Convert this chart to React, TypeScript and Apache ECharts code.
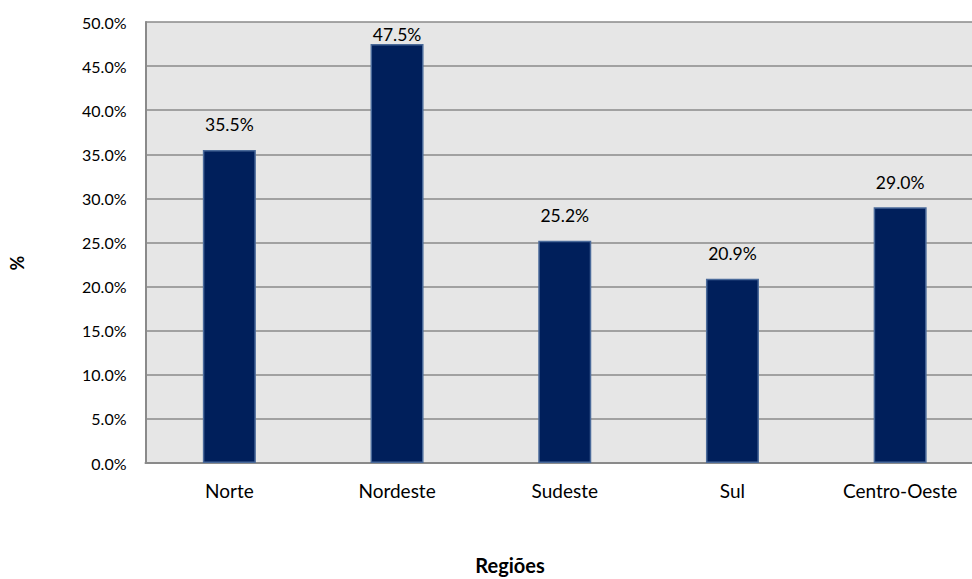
import React, { useEffect, useRef } from "react";
import * as echarts from "echarts";

const categories = ["Norte", "Nordeste", "Sudeste", "Sul", "Centro-Oeste"];
const values = [35.5, 47.5, 25.2, 20.9, 29.0];
const yTicks = { min: 0, max: 50, interval: 5 };

const FONT = "Lato, 'Open Sans', sans-serif";

export default function App() {
  const ref = useRef<HTMLDivElement>(null);

  useEffect(() => {
    if (!ref.current) return;
    const chart = echarts.init(ref.current, null, { renderer: "svg" });

    const data = values.map((v, i) => ({
      value: v,
      // the tallest bar's label sits tucked under the top edge of the plot
      label: i === 1 ? { distance: 1 } : undefined,
    }));

    chart.setOption({
      animation: false,
      backgroundColor: "#ffffff",
      textStyle: { fontFamily: FONT },
      grid: {
        left: 145.5,
        right: 6,
        top: 22,
        bottom: 116,
        show: true,
        backgroundColor: "#e6e6e6",
        borderWidth: 0,
      },
      xAxis: {
        type: "category",
        data: categories,
        axisLine: { show: true, lineStyle: { color: "#8a8a8a", width: 2 } },
        axisTick: { show: false },
        axisLabel: { color: "#000", fontSize: 19, margin: 18, fontFamily: FONT },
      },
      yAxis: {
        type: "value",
        min: yTicks.min,
        max: yTicks.max,
        interval: yTicks.interval,
        axisLine: { show: true, lineStyle: { color: "#8a8a8a", width: 2 } },
        axisTick: { show: false },
        splitLine: { show: true, lineStyle: { color: "#8a8a8a", width: 1.5 } },
        axisLabel: {
          color: "#000",
          fontSize: 16,
          margin: 19,
          fontFamily: FONT,
          formatter: (v: number) => v.toFixed(1) + "%",
        },
      },
      series: [
        {
          type: "bar",
          data,
          barWidth: 53,
          itemStyle: { color: "#001f5b", borderColor: "#4a6a9a", borderWidth: 1.5 },
          label: {
            show: true,
            position: "top",
            distance: 16,
            color: "#000",
            fontSize: 17.5,
            fontFamily: FONT,
            formatter: (p: any) => Number(p.value).toFixed(1) + "%",
          },
        },
      ],
      graphic: [
        {
          type: "text",
          x: 17,
          y: 263,
          rotation: Math.PI / 2,
          style: {
            text: "%",
            fontSize: 18,
            fontWeight: "bold",
            fontFamily: FONT,
            fill: "#000",
            align: "center",
            verticalAlign: "middle",
          },
        },
        {
          type: "text",
          x: 510,
          y: 565,
          style: {
            text: "Regiões",
            fontSize: 20,
            fontWeight: "bold",
            fontFamily: FONT,
            fill: "#000",
            align: "center",
            verticalAlign: "middle",
          },
        },
      ],
    });

    return () => chart.dispose();
  }, []);

  return (
    <div style={{ position: "absolute", left: 0, top: 0, width: 972, height: 579, overflow: "hidden" }}>
      <div ref={ref} style={{ width: 990, height: 579 }} />
    </div>
  );
}
